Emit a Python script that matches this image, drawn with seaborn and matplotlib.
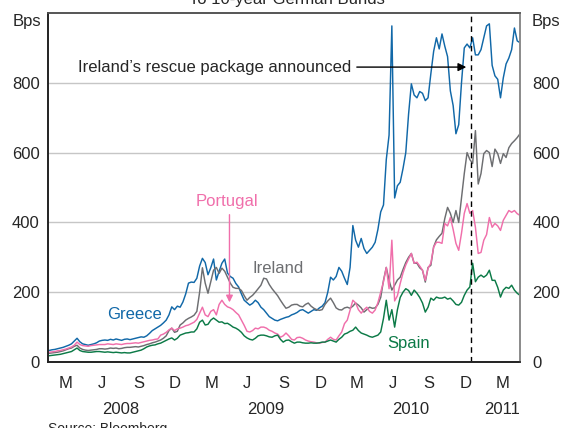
import matplotlib
matplotlib.use('Agg')
import matplotlib.pyplot as plt
import matplotlib.dates as mdates
import pandas as pd
import seaborn as sns

# Spreads to 10-year German Bunds, weekly readings (bps)
weeks = pd.date_range('2008-01-04', periods=170, freq='W-FRI')

greece = [33, 35, 36, 38, 40, 42, 45, 48, 52, 60,
          68, 58, 52, 50, 48, 50, 52, 55, 60, 62,
          63, 62, 65, 63, 66, 64, 62, 65, 66, 64,
          66, 68, 70, 72, 71, 75, 82, 90, 95, 100,
          105, 112, 120, 135, 158, 150, 160, 157, 172, 195,
          226, 229, 228, 240, 275, 297, 285, 250, 270, 295,
          235, 260, 283, 295, 255, 245, 240, 225, 215, 195,
          177, 170, 163, 168, 177, 170, 157, 150, 140, 130,
          125, 120, 118, 122, 125, 128, 130, 135, 138, 142,
          148, 150, 145, 140, 145, 150, 148, 155, 160, 170,
          200, 243, 235, 245, 271, 260, 240, 222, 271, 391,
          349, 329, 354, 325, 311, 320, 329, 343, 380, 430,
          450, 580, 650, 963, 470, 505, 515, 554, 600, 710,
          797, 765, 757, 775, 770, 749, 757, 826, 890, 929,
          897, 940, 905, 875, 777, 735, 654, 680, 800, 900,
          911, 900, 929, 880, 880, 895, 929, 963, 969, 850,
          820, 810, 757, 814, 854, 871, 895, 957, 920, 915]

ireland = [25, 26, 27, 28, 30, 32, 35, 38, 40, 45,
           48, 40, 36, 34, 33, 34, 35, 36, 38, 38,
           37, 38, 40, 39, 40, 38, 39, 41, 42, 42,
           43, 44, 43, 45, 47, 50, 52, 55, 57, 60,
           63, 68, 75, 90, 97, 85, 88, 106, 112, 120,
           125, 129, 134, 145, 200, 270, 226, 197, 230, 263,
           271, 254, 269, 260, 243, 226, 214, 211, 211, 205,
           190, 177, 185, 191, 200, 210, 220, 240, 238, 222,
           210, 200, 190, 177, 165, 154, 157, 163, 165, 165,
           160, 158, 165, 169, 160, 154, 150, 148, 150, 165,
           175, 183, 170, 155, 150, 149, 155, 157, 154, 160,
           169, 163, 155, 143, 150, 157, 154, 155, 165, 185,
           234, 271, 234, 206, 220, 235, 243, 265, 285, 300,
           311, 283, 283, 270, 263, 229, 271, 277, 330, 350,
           360, 369, 411, 443, 426, 400, 434, 400, 470, 540,
           600, 580, 569, 663, 510, 540, 597, 606, 600, 560,
           610, 597, 569, 597, 586, 614, 626, 634, 643, 654]

portugal = [28, 29, 30, 32, 33, 35, 37, 40, 43, 48,
            57, 50, 47, 46, 45, 47, 48, 49, 50, 50,
            50, 52, 51, 50, 52, 51, 50, 52, 53, 53,
            54, 55, 54, 56, 58, 60, 62, 63, 65, 66,
            77, 80, 85, 92, 97, 90, 95, 97, 100, 104,
            106, 110, 114, 122, 140, 157, 135, 130, 145, 150,
            135, 165, 177, 165, 158, 155, 150, 142, 135, 120,
            105, 88, 86, 90, 97, 95, 100, 100, 97, 91,
            88, 83, 80, 71, 75, 83, 75, 65, 63, 70,
            71, 68, 63, 60, 58, 57, 55, 54, 56, 57,
            65, 71, 65, 63, 75, 86, 110, 120, 149, 177,
            169, 150, 140, 150, 157, 145, 140, 149, 170, 200,
            230, 271, 210, 349, 175, 190, 225, 255, 278, 295,
            311, 283, 286, 275, 263, 234, 269, 283, 329, 343,
            343, 340, 397, 390, 414, 380, 340, 320, 369, 426,
            454, 426, 434, 386, 311, 314, 349, 365, 414, 386,
            397, 390, 377, 406, 420, 434, 429, 434, 425, 420]

spain = [18, 19, 20, 21, 22, 24, 26, 28, 30, 35,
         40, 33, 30, 29, 28, 28, 29, 30, 30, 29,
         28, 29, 28, 27, 28, 27, 26, 27, 26, 26,
         28, 30, 32, 34, 38, 43, 46, 48, 49, 52,
         54, 58, 62, 66, 69, 63, 68, 77, 80, 83,
         84, 86, 86, 95, 114, 120, 106, 108, 120, 126,
         120, 114, 115, 110, 111, 106, 100, 97, 92, 85,
         75, 69, 65, 63, 68, 75, 77, 77, 75, 72,
         71, 75, 77, 65, 57, 62, 63, 58, 54, 57,
         57, 55, 54, 54, 55, 54, 54, 55, 57, 57,
         60, 63, 60, 57, 65, 71, 80, 83, 88, 91,
         100, 90, 83, 80, 77, 73, 71, 74, 77, 86,
         125, 177, 120, 150, 100, 150, 185, 200, 210, 205,
         191, 206, 197, 185, 169, 143, 157, 183, 177, 186,
         183, 183, 186, 180, 183, 175, 165, 163, 171, 191,
         206, 215, 283, 230, 243, 249, 243, 249, 263, 234,
         234, 214, 186, 206, 214, 211, 220, 206, 197, 191]

colours = {'Greece': '#1168a8', 'Ireland': '#6d6e71',
           'Portugal': '#f06fab', 'Spain': '#0c7a47'}

quarter_labels = ['M', 'J', 'S', 'D'] * 3 + ['M']
years = ['2008', '2009', '2010', '2011']
year_centres = pd.to_datetime(['2008-07-01', '2009-07-01', '2010-07-01', '2011-02-14'])
y_ticks = [0, 200, 400, 600, 800]

df = pd.DataFrame({'date': weeks, 'Greece': greece, 'Ireland': ireland,
                   'Portugal': portugal, 'Spain': spain})
df = df.melt(id_vars='date', var_name='country', value_name='bps')

sns.set_style('white')
plt.rcParams['font.family'] = ['Liberation Sans', 'DejaVu Sans']

fig, ax = plt.subplots(figsize=(5.62, 4.28), dpi=100)
fig.subplots_adjust(left=48 / 562, right=520 / 562, top=1 - 13 / 428, bottom=1 - 362 / 428)

sns.lineplot(data=df, x='date', y='bps', hue='country', palette=colours,
             estimator=None, linewidth=1.05, legend=False, ax=ax)

# axes
start, end = pd.Timestamp('2008-01-01'), pd.Timestamp('2011-04-01')
ax.set_xlim(start, end)
ax.set_ylim(0, 1000)
ax.set_yticks(y_ticks)
ax.yaxis.grid(True, color='#c6c6c6', lw=1)
ax.set_axisbelow(True)
ax.tick_params(axis='y', length=0, labelsize=12, pad=6)
ax.set_xlabel('')
ax.set_ylabel('')

ax.xaxis.set_major_locator(mdates.MonthLocator(bymonth=[1, 4, 7, 10]))
ax.xaxis.set_major_formatter(plt.NullFormatter())
mid_quarters = pd.date_range('2008-01-01', periods=13, freq='QS') + pd.Timedelta(days=45)
ax.set_xticks(mdates.date2num(mid_quarters), minor=True)
ax.set_xticklabels(quarter_labels, minor=True)
ax.tick_params(axis='x', which='major', direction='in', length=7, width=1, color='#555555')
ax.tick_params(axis='x', which='minor', length=0, labelsize=12, pad=10)

ax2 = ax.twinx()
ax2.set_ylim(0, 1000)
ax2.set_yticks(y_ticks)
ax2.tick_params(axis='y', length=0, labelsize=12, pad=9)

for a in (ax, ax2):
    a.spines['left'].set_color('#222222')
    a.spines['bottom'].set_color('#222222')
    a.spines['top'].set_color('#555555')
    a.spines['right'].set_color('#8a8a8a')
    for s in a.spines.values():
        s.set_linewidth(1.2)

for c, yr in zip(year_centres, years):
    ax.text(c, -0.135, yr, transform=ax.get_xaxis_transform(),
            ha='center', va='center', fontsize=12)

ax.text(-0.015, 0.975, 'Bps', transform=ax.transAxes, ha='right', va='center', fontsize=12)
ax.text(1.025, 0.975, 'Bps', transform=ax.transAxes, ha='left', va='center', fontsize=12)

# series labels
ax.text(pd.Timestamp('2008-08-06'), 135, 'Greece', color=colours['Greece'], ha='center', va='center', fontsize=12)
ax.text(pd.Timestamp('2009-03-25'), 461, 'Portugal', color=colours['Portugal'], ha='center', va='center', fontsize=12)
ax.text(pd.Timestamp('2009-08-02'), 269, 'Ireland', color=colours['Ireland'], ha='center', va='center', fontsize=12)
ax.text(pd.Timestamp('2010-06-24'), 54, 'Spain', color=colours['Spain'], ha='center', va='center', fontsize=12)

ax.annotate('', xy=(pd.Timestamp('2009-04-01'), 163), xytext=(pd.Timestamp('2009-04-01'), 430),
            arrowprops=dict(arrowstyle='-|>', color=colours['Portugal'], lw=1, mutation_scale=10))

# Ireland rescue
rescue = pd.Timestamp('2010-11-30')
ax.axvline(rescue, color='black', lw=1, ls=(0, (4, 3)))
ax.text(pd.Timestamp('2010-02-01'), 845, 'Ireland’s rescue package announced',
        ha='right', va='center', fontsize=12)
ax.annotate('', xy=(pd.Timestamp('2010-11-24'), 845), xytext=(pd.Timestamp('2010-02-08'), 845),
            arrowprops=dict(arrowstyle='-|>', color='black', lw=1, mutation_scale=12))

fig.text(0.51, 1.002, 'To 10-year German Bunds', ha='center', va='center', fontsize=12)
fig.text(48 / 562, 0.015, 'Source: Bloomberg', ha='left', va='top', fontsize=10)

fig.savefig('out.png', dpi=100)
